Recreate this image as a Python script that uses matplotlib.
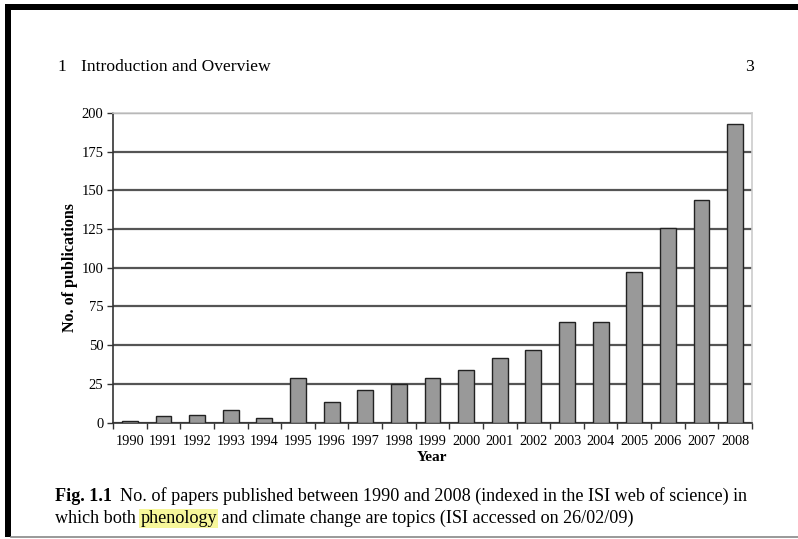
import matplotlib.pyplot as plt
import numpy as np
from matplotlib.lines import Line2D
from matplotlib.patches import Rectangle

years = [str(y) for y in range(1990, 2009)]
counts = [1, 4, 5, 8, 3, 29, 13, 21, 25, 29, 34, 42, 47, 65, 65, 97, 126, 144, 193]
yticks = [0, 25, 50, 75, 100, 125, 150, 175, 200]

W, H = 798, 539
plt.rcParams['font.family'] = ['Liberation Serif', 'DejaVu Serif']

fig = plt.figure(figsize=(W / 100, H / 100), dpi=100)
fig.patch.set_facecolor('white')

# page borders (scan edges)
def px(x, y):
    return x / W, 1 - y / H

fig.add_artist(Rectangle(px(5, 10), (W - 5) / W, 6 / H, transform=fig.transFigure,
                         color='black', lw=0))
fig.add_artist(Rectangle(px(5, 537), 6 / W, 533 / H, transform=fig.transFigure,
                         color='black', lw=0))
fig.add_artist(Line2D([11 / W, 1], [1 - 537 / H] * 2, transform=fig.transFigure,
                      color='#888888', lw=1.2))

ax = fig.add_axes([113 / W, 1 - 422.5 / H, (752 - 113) / W, (422.5 - 113) / H])
x = np.arange(len(years))
ax.set_axisbelow(True)
ax.yaxis.grid(True, color='#555555', lw=1.6)
ax.bar(x, counts, width=0.47, color='#999999', edgecolor='#222222', lw=1.0, zorder=3)

ax.set_xlim(-0.5, len(years) - 0.5)
ax.set_ylim(0, 200)
ax.set_yticks(yticks)
ax.set_xticks(x)
ax.set_xticklabels(years)
ax.set_xticks(np.arange(-0.5, len(years)), minor=True)
ax.tick_params(axis='x', which='major', length=0, labelsize=10.3, pad=9)
ax.tick_params(axis='x', which='minor', length=4, width=1, direction='out', color='#333333')
ax.tick_params(axis='y', length=4, width=1, direction='out', labelsize=10.5, pad=3,
               color='#333333')

for s in ['top', 'right']:
    ax.spines[s].set_color('#cccccc')
    ax.spines[s].set_linewidth(1.2)
for s in ['left', 'bottom']:
    ax.spines[s].set_color('#333333')
    ax.spines[s].set_linewidth(1.2)

ax.set_xlabel('Year', fontsize=11, fontweight='bold', labelpad=2)
ax.set_ylabel('No. of publications', fontsize=11.5, fontweight='bold', labelpad=2)

# running header
fig.text(57 / W, 1 - 67 / H, '1', fontsize=12.6, va='center')
fig.text(81 / W, 1 - 67 / H, 'Introduction and Overview', fontsize=12.6, va='center')
fig.text(745 / W, 1 - 67 / H, '3', fontsize=12.6, va='center')

# caption
fs = 13.1
t1 = fig.text(55 / W, 1 - 501 / H, 'Fig. 1.1', fontsize=fs, fontweight='bold', va='baseline')
ax.annotate('No. of papers published between 1990 and 2008 (indexed in the ISI web of science) in',
            xycoords=t1, xy=(1, 0), xytext=(8, 0), textcoords='offset pixels',
            va='bottom', fontsize=fs, annotation_clip=False)
t2 = fig.text(55 / W, 1 - 523 / H, 'which both ', fontsize=fs, va='baseline')
t3 = ax.annotate('phenology', xycoords=t2, xy=(1, 0), va='bottom', fontsize=fs,
                 annotation_clip=False,
                 bbox=dict(boxstyle='square,pad=0.08', fc='#f7f79a', ec='none'))
ax.annotate(' and climate change are topics (ISI accessed on 26/02/09)', xycoords=t3,
            xy=(1, 0), va='bottom', fontsize=fs, annotation_clip=False)

fig.savefig('out.png', dpi=100)
